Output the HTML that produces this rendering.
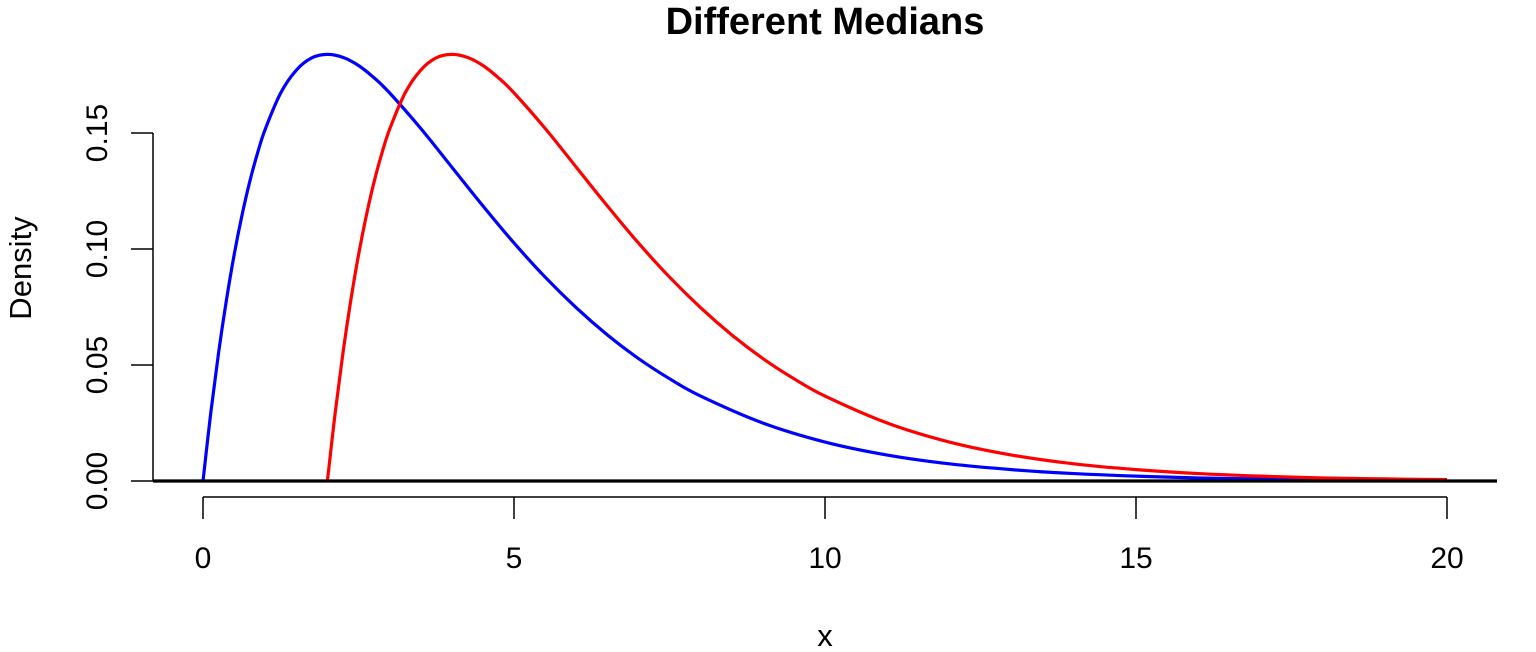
<!DOCTYPE html>
<html><head><meta charset="utf-8">
<style>
html,body{margin:0;padding:0;background:#fff;}
svg{display:block;font-family:"Liberation Sans",Arial,sans-serif;}
</style></head>
<body>
<svg id="chart" width="1536" height="652" viewBox="0 0 1536 652" xmlns="http://www.w3.org/2000/svg">
<text x="825" y="34" text-anchor="middle" font-size="38" font-weight="bold">Different Medians</text>
<text x="825" y="646" text-anchor="middle" font-size="31">x</text>
<text transform="translate(31,268) rotate(-90)" text-anchor="middle" font-size="31">Density</text>
<g id="axes"></g>
<g id="series"></g>
</svg>
<script>
const xTicks = [0, 5, 10, 15, 20];
const yTicks = [0, 0.05, 0.10, 0.15];
const yTickLabels = ["0.00", "0.05", "0.10", "0.15"];
const blueX = [0,0.125,0.25,0.375,0.5,0.625,0.75,0.875,1,1.25,1.5,1.75,2,2.25,2.5,2.75,3,3.5,4,4.5,5,5.5,6,6.5,7,7.5,8,9,10,11,12,13,14,15,16,17,18,19,20];
const blueY = [0,0.0294,0.0552,0.0777,0.0974,0.1143,0.1289,0.1412,0.1516,0.1673,0.1771,0.1824,0.1839,0.1826,0.1791,0.1738,0.1673,0.1520,0.1353,0.1186,0.1026,0.0879,0.0747,0.0630,0.0528,0.0441,0.0366,0.0250,0.0168,0.0112,0.0074,0.0049,0.0032,0.0021,0.0013,0.0009,0.0006,0.0004,0.0002];
const redX = [2,2.125,2.25,2.375,2.5,2.625,2.75,2.875,3,3.25,3.5,3.75,4,4.25,4.5,4.75,5,5.5,6,6.5,7,7.5,8,8.5,9,9.5,10,11,12,13,14,15,16,17,18,19,20];
const redY = [0,0.0294,0.0552,0.0777,0.0974,0.1143,0.1289,0.1412,0.1516,0.1673,0.1771,0.1824,0.1839,0.1826,0.1791,0.1738,0.1673,0.1520,0.1353,0.1186,0.1026,0.0879,0.0747,0.0630,0.0528,0.0441,0.0366,0.0250,0.0168,0.0112,0.0074,0.0049,0.0032,0.0021,0.0013,0.0009,0.0006];

const NS = "http://www.w3.org/2000/svg";
const xs = v => 203 + v * (1447 - 203) / 20;
const ys = v => 481 - v * (481 - 133) / 0.15;
function mk(tag, attrs, parent) {
  const e = document.createElementNS(NS, tag);
  for (const k in attrs) e.setAttribute(k, attrs[k]);
  parent.appendChild(e);
  return e;
}
const axes = document.getElementById('axes');
const series = document.getElementById('series');

const xl = mk('line', {x1: xs(xTicks[0]), x2: xs(xTicks[xTicks.length-1]), y1: 497, y2: 497, stroke: '#000', 'stroke-width': 1.5}, axes);


xTicks.forEach(t => {
  const tk = mk('line', {x1: xs(t), x2: xs(t), y1: 497, y2: 519, stroke: '#000', 'stroke-width': 1.5}, axes);
  
  
  const lb = mk('text', {x: xs(t), y: 568, 'text-anchor': 'middle', 'font-size': 30}, axes);
  lb.textContent = String(t);
  
  
});
const yl = mk('line', {x1: 153, x2: 153, y1: ys(yTicks[0]), y2: ys(yTicks[yTicks.length-1]), stroke: '#000', 'stroke-width': 1.5}, axes);


yTicks.forEach((t, i) => {
  const tk = mk('line', {x1: 131, x2: 153, y1: ys(t), y2: ys(t), stroke: '#000', 'stroke-width': 1.5}, axes);
  
  
  const lb = mk('text', {transform: `translate(107,${ys(t)}) rotate(-90)`, 'text-anchor': 'middle', 'font-size': 30}, axes);
  lb.textContent = yTickLabels[i];
  
  
});

function smoothPath(X, Y) {
  const p = X.map((x, i) => [xs(x), ys(Y[i])]);
  let d = `M${p[0][0]},${p[0][1]}`;
  for (let i = 0; i < p.length - 1; i++) {
    const p0 = p[i-1] || p[i], p1 = p[i], p2 = p[i+1], p3 = p[i+2] || p2;
    const c1 = [p1[0] + (p2[0]-p0[0])/6, p1[1] + (p2[1]-p0[1])/6];
    const c2 = [p2[0] - (p3[0]-p1[0])/6, p2[1] - (p3[1]-p1[1])/6];
    d += ` C${c1[0]},${c1[1]} ${c2[0]},${c2[1]} ${p2[0]},${p2[1]}`;
  }
  return d;
}
const bp = mk('path', {d: smoothPath(blueX, blueY), fill: 'none', stroke: '#0000ff', 'stroke-width': 3.2}, series);


const rp = mk('path', {d: smoothPath(redX, redY), fill: 'none', stroke: '#ff0000', 'stroke-width': 3.2}, series);


const h0 = mk('line', {x1: 153, x2: 1497, y1: ys(0), y2: ys(0), stroke: '#000', 'stroke-width': 3.2}, series);


</script>
</body></html>
